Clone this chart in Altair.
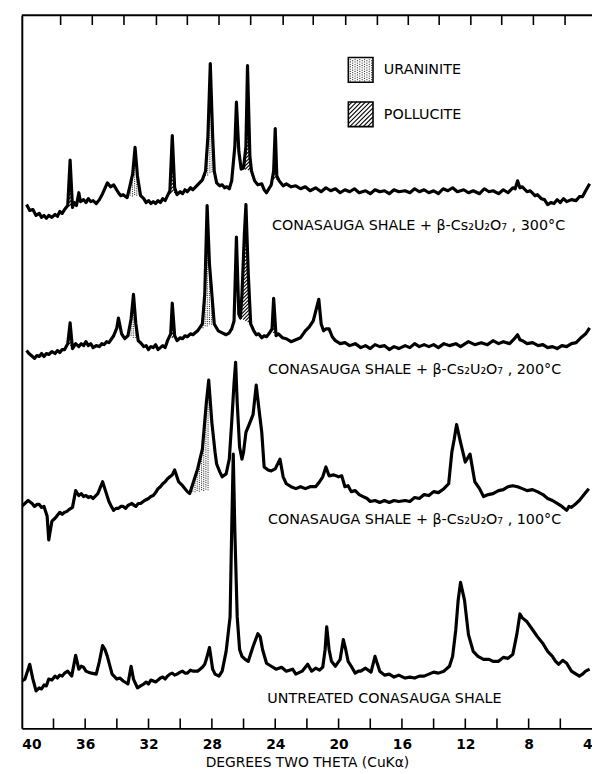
import altair as alt
import pandas as pd
import numpy as np

# ---------------- data (intensity in arbitrary units) ----------------
t300_deg = [39.7, 39.5, 39.3, 39.1, 38.9, 38.75, 38.6, 38.45, 38.3, 38.1, 37.9, 37.75, 37.6, 37.45, 37.3, 37.1,
            36.95, 36.8, 36.7, 36.55, 36.4, 36.3, 36.1, 35.95, 35.8, 35.65, 35.5, 35.3, 35.1, 34.9, 34.6, 34.4,
            34.2, 33.9, 33.75, 33.6, 33.35, 33.2, 33.0, 32.85, 32.7, 32.5, 32.3, 32.15, 32.0, 31.85, 31.7, 31.55,
            31.4, 31.25, 31.1, 30.95, 30.8, 30.65, 30.5, 30.35, 30.2, 30.0, 29.85, 29.7, 29.55, 29.35, 29.2,
            28.9, 28.6, 28.4, 28.25, 28.1, 27.95, 27.85, 27.7, 27.5, 27.35, 27.2, 27.05, 26.9, 26.75, 26.55,
            26.45, 26.3, 26.15, 26.0, 25.85, 25.75, 25.6, 25.5, 25.3, 25.1, 24.85, 24.7, 24.55, 24.4, 24.25,
            24.1, 24.0, 23.9, 23.75, 23.5, 23.3, 23.0, 22.7, 22.4, 22.1, 21.8, 21.45, 21.1, 20.8, 20.5, 20.2,
            19.9, 19.6, 19.3, 19.0, 18.7, 18.3, 18.0, 17.7, 17.4, 17.1, 16.8, 16.5, 16.2, 15.8, 15.5, 15.2,
            14.9, 14.6, 14.3, 14.0, 13.7, 13.4, 13.1, 12.8, 12.5, 12.1, 11.8, 11.5, 11.1, 10.8, 10.5, 10.25,
            9.9, 9.6, 9.3, 9.0, 8.85, 8.7, 8.55, 8.4, 8.1, 7.9, 7.6, 7.45, 7.2, 7.0, 6.8, 6.6, 6.4, 6.2, 6.0,
            5.8, 5.6, 5.3, 5.0, 4.8, 4.6, 4.4, 4.15]
t300_int = [531, 525, 526, 520, 522, 518, 520, 517, 520, 518, 521, 519, 524, 522, 526, 530,
            576, 528, 533, 530, 543, 534, 536, 533, 537, 534, 535, 532, 536, 542, 553, 549,
            551, 543, 540, 541, 538, 548, 562, 589, 560, 540, 537, 533, 535, 532, 534, 532,
            535, 533, 537, 535, 540, 545, 601, 548, 541, 544, 542, 546, 544, 548, 546,
            551, 556, 565, 600, 674, 600, 565, 553, 550, 551, 548, 549, 547, 555, 590,
            635, 585, 567, 568, 590, 672, 580, 565, 555, 551, 552, 546, 543, 547, 551,
            565, 608, 560, 555, 550, 552, 549, 550, 547, 549, 545, 548, 544, 548, 545, 547,
            543, 546, 544, 547, 543, 545, 542, 546, 544, 545, 542, 546, 544, 545, 543, 547,
            544, 546, 543, 545, 542, 547, 545, 548, 544, 546, 543, 545, 542, 547, 544, 545,
            542, 546, 543, 548, 547, 555, 548, 549, 544, 545, 540, 541, 537, 536, 531, 533, 532, 536, 533,
            537, 534, 536, 535, 539, 539, 545, 552]

t200_deg = [39.7, 39.55, 39.4, 39.2, 39.05, 38.9, 38.75, 38.6, 38.45, 38.3, 38.1, 37.9, 37.75, 37.6, 37.45,
            37.3, 37.1, 36.95, 36.8, 36.6, 36.4, 36.25, 36.1, 35.95, 35.8, 35.65, 35.5, 35.3, 35.1, 34.95, 34.8,
            34.65, 34.5, 34.2, 34.0, 33.9, 33.7, 33.5, 33.3, 33.1, 32.95, 32.8, 32.65, 32.5, 32.3, 32.15, 32.0,
            31.85, 31.7, 31.55, 31.4, 31.25, 31.1, 30.95, 30.8, 30.6, 30.5, 30.35, 30.2, 30.0, 29.85, 29.7, 29.55,
            29.35, 29.2, 28.9, 28.6, 28.45, 28.3, 28.15, 28.0, 27.85, 27.6, 27.35, 27.1, 26.9, 26.75, 26.6, 26.45,
            26.3, 26.2, 26.1, 25.95, 25.85, 25.7, 25.55, 25.35, 25.2, 25.05, 24.85, 24.7, 24.55, 24.4, 24.2,
            24.1, 23.95, 23.8, 23.55, 23.3, 23.0, 22.7, 22.4, 22.1, 21.85, 21.6, 21.25, 21.1, 20.95, 20.8, 20.6,
            20.4, 20.2, 19.9, 19.6, 19.3, 18.95, 18.6, 18.3, 18.0, 17.7, 17.4, 17.1, 16.8, 16.5, 16.2, 15.8,
            15.5, 15.2, 14.9, 14.6, 14.3, 14.0, 13.7, 13.35, 13.0, 12.6, 12.3, 11.8, 11.4, 11.0, 10.6, 10.25,
            9.9, 9.6, 9.2, 8.9, 8.7, 8.55, 8.4, 8.1, 7.75, 7.4, 7.1, 6.8, 6.5, 6.2, 5.9, 5.6, 5.3, 5.0, 4.7,
            4.4, 4.15]
t200_int = [383, 380, 378, 375, 378, 377, 380, 377, 380, 379, 382, 380, 383, 381, 384,
            384, 390, 411, 385, 390, 387, 390, 388, 392, 388, 390, 386, 388, 387, 390, 389,
            392, 391, 398, 406, 416, 400, 395, 398, 415, 440, 410, 393, 391, 387, 388, 384,
            387, 386, 389, 384, 386, 388, 386, 393, 400, 431, 398, 393, 396, 395, 398, 397,
            400, 399, 403, 410, 440, 530, 470, 440, 410, 403, 401, 399, 401, 405, 413, 498,
            420, 416, 440, 500, 531, 460, 410, 403, 399, 400, 396, 398, 397, 400, 405,
            436, 398, 400, 396, 395, 392, 394, 396, 403, 407, 413, 435, 410, 403, 405, 405,
            397, 393, 390, 391, 388, 390, 386, 388, 385, 389, 387, 388, 384, 387, 385, 388,
            386, 390, 387, 389, 387, 389, 386, 390, 388, 390, 387, 392, 389, 391, 389, 393,
            390, 392, 390, 395, 399, 394, 393, 390, 391, 388, 389, 386, 387, 385, 388, 387, 390, 391, 396,
            400, 406]

t100_deg = [40.0, 39.8, 39.6, 39.35, 39.2, 39.05, 38.9, 38.75, 38.6, 38.4, 38.3, 38.1, 37.9, 37.75, 37.6,
            37.45, 37.3, 37.15, 37.0, 36.8, 36.6, 36.4, 36.25, 36.1, 35.95, 35.8, 35.65, 35.5, 35.2, 34.9, 34.7,
            34.5, 34.35, 34.2, 34.05, 33.9, 33.75, 33.6, 33.45, 33.3, 33.05, 32.8, 32.65, 32.5, 32.25, 32.0,
            31.85, 31.7, 31.55, 31.4, 31.25, 31.1, 30.95, 30.8, 30.65, 30.5, 30.35, 30.1, 29.85, 29.55, 29.4,
            29.2, 28.9, 28.6, 28.35, 28.2, 28.0, 27.8, 27.7, 27.5, 27.35, 27.1, 26.9, 26.75, 26.6, 26.5, 26.4,
            26.25, 26.1, 26.0, 25.85, 25.6, 25.4, 25.2, 25.0, 24.85, 24.7, 24.45, 24.25, 24.0, 23.7, 23.5,
            23.3, 23.0, 22.7, 22.4, 22.1, 21.8, 21.45, 21.2, 21.0, 20.8, 20.6, 20.3, 20.0, 19.8, 19.6, 19.4,
            19.2, 18.95, 18.7, 18.45, 18.2, 18.0, 17.7, 17.4, 17.1, 16.8, 16.5, 16.2, 15.8, 15.5, 15.2, 14.9,
            14.6, 14.3, 14.0, 13.7, 13.35, 13.05, 12.85, 12.7, 12.55, 12.3, 12.0, 11.7, 11.4, 11.1, 10.85,
            10.55, 10.25, 9.9, 9.6, 9.3, 9.0, 8.7, 8.4, 8.1, 7.75, 7.45, 7.1, 6.8, 6.5, 6.2, 5.9, 5.6, 5.45,
            5.3, 5.0, 4.8, 4.6, 4.4, 4.2]
t100_int = [225, 228, 231, 228, 225, 227, 227, 224, 225, 215, 191, 210, 213, 216, 219,
            217, 219, 220, 222, 224, 241, 236, 238, 235, 236, 234, 235, 233, 238, 250, 240,
            230, 225, 221, 223, 223, 225, 225, 223, 226, 228, 225, 228, 228, 231, 233,
            235, 236, 239, 243, 245, 248, 250, 253, 255, 257, 262, 250, 246, 240, 238,
            248, 263, 283, 330, 353, 310, 280, 268, 260, 255, 258, 273, 310, 350, 371, 330,
            285, 273, 280, 300, 310, 318, 348, 320, 300, 265, 262, 261, 263, 273, 255,
            248, 245, 243, 245, 243, 245, 245, 250, 255, 265, 256, 257, 255, 256, 245, 246,
            240, 241, 237, 235, 233, 230, 231, 229, 231, 229, 231, 230, 231, 230, 234, 233,
            237, 236, 240, 239, 243, 248, 280, 293, 308, 290, 270, 278, 250, 243, 235,
            237, 238, 241, 242, 245, 246, 245, 243, 241, 242, 240, 237, 233, 231, 228, 225, 221, 225,
            224, 228, 231, 235, 239, 243]

tun_deg = [40.0, 39.8, 39.5, 39.3, 39.1, 38.9, 38.75, 38.6, 38.45, 38.3, 38.1, 37.9, 37.75, 37.6, 37.45,
           37.3, 37.1, 36.85, 36.6, 36.4, 36.25, 36.1, 35.95, 35.8, 35.6, 35.3, 35.1, 34.9, 34.75, 34.6, 34.3,
           34.0, 33.8, 33.6, 33.3, 33.1, 32.95, 32.7, 32.5, 32.3, 32.15, 32.0, 31.85, 31.7, 31.55, 31.4, 31.25,
           31.1, 30.95, 30.8, 30.65, 30.5, 30.35, 30.2, 30.0, 29.85, 29.7, 29.55, 29.35, 29.2, 28.9, 28.6,
           28.45, 28.35, 28.15, 27.95, 27.8, 27.55, 27.35, 27.1, 26.85, 26.75, 26.65, 26.55, 26.4, 26.25,
           26.1, 25.9, 25.7, 25.4, 25.1, 24.95, 24.8, 24.55, 24.25, 23.95, 23.6, 23.3, 22.9, 22.7, 22.3,
           21.95, 21.7, 21.45, 21.2, 21.0, 20.85, 20.75, 20.6, 20.45, 20.2, 19.9, 19.7, 19.55, 19.4, 19.2,
           18.95, 18.75, 18.6, 18.3, 17.95, 17.7, 17.5, 17.4, 17.1, 16.8, 16.5, 16.2, 15.8, 15.5, 15.2, 14.9,
           14.6, 14.3, 14.0, 13.7, 13.35, 13.0, 12.8, 12.6, 12.45, 12.3, 12.05, 11.8, 11.5, 11.2, 10.85, 10.5,
           10.25, 9.9, 9.6, 9.3, 9.0, 8.75, 8.55, 8.4, 8.1, 7.75, 7.45, 7.1, 6.8, 6.5, 6.3, 6.1, 5.85, 5.6,
           5.3, 5.0, 4.8, 4.6, 4.4, 4.15]
tun_int = [48, 50, 65, 50, 38, 41, 40, 44, 43, 50, 49, 53, 51, 54, 53,
           56, 58, 53, 74, 60, 63, 62, 58, 57, 56, 55, 68, 84, 80, 73, 55,
           50, 51, 48, 45, 63, 50, 41, 43, 45, 47, 45, 49, 48, 47, 49, 51,
           52, 50, 53, 55, 56, 54, 55, 57, 58, 56, 56, 59, 58, 58, 62,
           65, 70, 82, 60, 55, 53, 58, 78, 113, 200, 278, 200, 113, 80,
           73, 70, 68, 83, 96, 93, 80, 66, 63, 60, 62, 58, 60, 55, 58,
           65, 58, 61, 59, 62, 80, 103, 80, 68, 63, 70, 90, 80, 68, 63,
           56, 58, 58, 61, 57, 73, 63, 58, 54, 55, 52, 54, 51, 52, 51, 53,
           53, 55, 57, 56, 58, 63, 73, 100, 130, 148, 130, 95, 78, 73, 70, 70,
           68, 68, 72, 71, 75, 95, 116, 112, 108, 100, 93, 86, 78, 73, 68, 65, 69, 66, 58,
           55, 53, 55, 58, 60, 61]

trace_names = ["300", "200", "100", "untreated"]
label_texts = ["CONASAUGA SHALE + β-Cs₂U₂O₇ , 300°C",
               "CONASAUGA SHALE + β-Cs₂U₂O₇ , 200°C",
               "CONASAUGA SHALE + β-Cs₂U₂O₇ , 100°C",
               "UNTREATED CONASAUGA SHALE"]
label_deg = [24.2, 24.45, 24.45, 24.5]
label_int = [509, 363, 211, 30]

# shaded peaks: trace, phase, start (deg), end (deg), baseline at start/end (None = trace value)
peak_trace = ["300", "300", "300", "300", "300", "300",
              "200", "200", "200", "200", "200", "200", "100", "100"]
peak_phase = ["pollucite", "uraninite", "pollucite", "uraninite", "pollucite", "pollucite",
              "pollucite", "uraninite", "pollucite", "uraninite", "pollucite", "pollucite",
              "uraninite", "uraninite"]
peak_start = [37.12, 33.35, 30.75, 28.6, 26.1, 24.22, 37.1, 33.3, 30.72, 28.9, 26.2, 24.3, 29.4, 33.3]
peak_end = [36.78, 32.5, 30.25, 27.85, 25.5, 23.82, 36.78, 32.65, 30.3, 27.85, 25.55, 23.9, 28.2, 32.85]
peak_base0 = [None] * 12 + [238, 224]
peak_base1 = [None] * 12 + [241, 224]

bottom_ticks = [38, 36, 34, 32, 30, 28, 26, 24, 22, 20, 18, 16, 14, 12, 10, 8, 6]
top_ticks = [37.55, 35.55, 33.55, 31.5, 29.55, 27.55, 25.55, 23.5, 21.6, 19.55, 17.55, 15.6,
             13.65, 11.65, 9.7, 7.7, 5.7]
tick_labels = [40, 36, 32, 28, 24, 20, 16, 12, 8, 4]

legend_names = ["URANINITE", "POLLUCITE"]

# ---------------- geometry helpers (plot area in px) ----------------
W, H = 578, 723
XMAX, XMIN = 40.0, 4.0


def to_px(d):
    return (XMAX - np.asarray(d, dtype=float)) / (XMAX - XMIN) * W


def to_deg(p):
    return XMAX - np.asarray(p, dtype=float) * (XMAX - XMIN) / W


traces = {"300": (t300_deg, t300_int), "200": (t200_deg, t200_int),
          "100": (t100_deg, t100_int), "untreated": (tun_deg, tun_int)}

rows = []
for name in trace_names:
    d, v = traces[name]
    for a, b in zip(d, v):
        rows.append({"trace": name, "deg": a, "val": b})
lines_df = pd.DataFrame(rows)

dots, hatch = [], []
for tr, ph, s, e, b0, b1 in zip(peak_trace, peak_phase, peak_start, peak_end, peak_base0, peak_base1):
    d, v = traces[tr]
    xs = to_px(d)
    ys = H - np.asarray(v, dtype=float)
    p0, p1 = float(to_px(s)), float(to_px(e))
    top = lambda p: np.interp(p, xs, ys)
    yb0 = float(top(p0)) if b0 is None else H - b0
    yb1 = float(top(p1)) if b1 is None else H - b1
    bot = lambda p: yb0 + (yb1 - yb0) * (np.asarray(p) - p0) / (p1 - p0)
    if ph == "uraninite":
        for i, p in enumerate(np.arange(p0 + 1, p1, 2.2)):
            t, bt = float(top(p)), float(bot(p))
            off = 0 if i % 2 == 0 else 1.1
            for yy in np.arange(bt - 1 - off, t + 1, -2.2):
                dots.append({"deg": float(to_deg(p)), "val": H - yy})
    else:
        fine = np.linspace(p0, p1, 200)
        tt, bb = top(fine), bot(fine)
        kmin = float(np.min(fine + tt))
        kmax = float(np.max(fine + bb))
        for k in np.arange(kmin + 2, kmax, 3.6):
            yy = k - fine
            m = (yy > tt + 0.5) & (yy < bb)
            if m.sum() >= 2:
                xa, xb = fine[m].min(), fine[m].max()
                hatch.append({"deg": float(to_deg(xa)), "val": H - (k - xa),
                              "deg2": float(to_deg(xb)), "val2": H - (k - xb)})

# legend boxes (px in plot area)
box_x0, box_x1 = 331.0, 356.0
box_u = (43.0, 68.0)
box_p = (88.0, 113.0)
legend_box = pd.DataFrame([
    {"deg": float(to_deg(box_x0)), "deg2": float(to_deg(box_x1)), "val": H - box_u[0], "val2": H - box_u[1]},
    {"deg": float(to_deg(box_x0)), "deg2": float(to_deg(box_x1)), "val": H - box_p[0], "val2": H - box_p[1]},
])
for i, p in enumerate(np.arange(box_x0 + 2, box_x1 - 1, 2.4)):
    off = 0 if i % 2 == 0 else 1.2
    for yy in np.arange(box_u[0] + 2 + off, box_u[1] - 1, 2.4):
        dots.append({"deg": float(to_deg(p)), "val": H - yy})
for k in np.arange(box_x0 + box_p[0] + 4, box_x1 + box_p[1] - 2, 4.5):
    xa = max(box_x0, k - box_p[1])
    xb = min(box_x1, k - box_p[0])
    if xb - xa > 0.5:
        hatch.append({"deg": float(to_deg(xa)), "val": H - (k - xa),
                      "deg2": float(to_deg(xb)), "val2": H - (k - xb)})

dots_df = pd.DataFrame(dots)
hatch_df = pd.DataFrame(hatch)

legend_text_df = pd.DataFrame({"name": legend_names,
                               "deg": [float(to_deg(box_x1 + 11))] * 2,
                               "val": [H - 56.0, H - 101.0]})
labels_df = pd.DataFrame({"text": label_texts, "deg": label_deg, "val": label_int})
ticks_df = pd.DataFrame({"deg": bottom_ticks + top_ticks,
                         "val": [0] * len(bottom_ticks) + [H] * len(top_ticks),
                         "val2": [10] * len(bottom_ticks) + [H - 10] * len(top_ticks)})
top_line_df = pd.DataFrame({"deg": [XMAX], "deg2": [XMIN], "val": [H]})

# ---------------- chart ----------------
FONT = "DejaVu Sans"
xs = alt.Scale(domain=[XMIN, XMAX], reverse=True, nice=False, zero=False)
ys = alt.Scale(domain=[0, H], nice=False, zero=False)
X = alt.X("deg:Q", scale=xs,
          axis=alt.Axis(values=tick_labels, ticks=False, grid=False, format="d",
                        labelFont=FONT, labelFontSize=14, labelFontWeight="bold", labelColor="black",
                        labelPadding=9, domainColor="black", domainWidth=2,
                        title="DEGREES TWO THETA (CuKα)", titleFont=FONT, titleFontSize=14,
                        titleFontWeight="normal", titleColor="black", titlePadding=5))
Y = alt.Y("val:Q", scale=ys,
          axis=alt.Axis(labels=False, ticks=False, grid=False, title=None,
                        domainColor="black", domainWidth=2))

base_x = alt.X("deg:Q", scale=xs)
base_y = alt.Y("val:Q", scale=ys)

lines = alt.Chart(lines_df).mark_line(color="black", strokeWidth=3.2, strokeJoin="round", clip=True).encode(
    x=X, y=Y, detail="trace:N", order=alt.Order("deg:Q", sort="descending"))

dots_layer = alt.Chart(dots_df).mark_circle(color="#333333", size=1.6, opacity=1).encode(x=base_x, y=base_y)

hatch_layer = alt.Chart(hatch_df).mark_rule(color="black", strokeWidth=1.1).encode(
    x=base_x, y=base_y, x2="deg2:Q", y2="val2:Q")

box_layer = alt.Chart(legend_box).mark_rect(fill=None, stroke="black", strokeWidth=1.6).encode(
    x=base_x, x2="deg2:Q", y=base_y, y2="val2:Q")

legend_text = alt.Chart(legend_text_df).mark_text(align="left", baseline="middle", font=FONT,
                                                 fontSize=14.5, color="black").encode(
    x=base_x, y=base_y, text="name:N")

labels = alt.Chart(labels_df).mark_text(align="left", baseline="middle", font=FONT,
                                        fontSize=14.5, color="black").encode(
    x=base_x, y=base_y, text="text:N")

ticks = alt.Chart(ticks_df).mark_rule(color="black", strokeWidth=1.6).encode(
    x=base_x, y=base_y, y2="val2:Q")

top_line = alt.Chart(top_line_df).mark_rule(color="black", strokeWidth=2).encode(
    x=base_x, x2="deg2:Q", y=base_y)

chart = alt.layer(hatch_layer, dots_layer, lines, box_layer, legend_text, labels, ticks, top_line).properties(
    width=W, height=H,
    autosize=alt.AutoSizeParams(type="none"),
    padding={"left": 14, "top": 2, "right": 0, "bottom": 41},
    background="white",
).configure_view(stroke=None)

chart.save("out.html", embed_options={"renderer": "svg", "actions": False})
